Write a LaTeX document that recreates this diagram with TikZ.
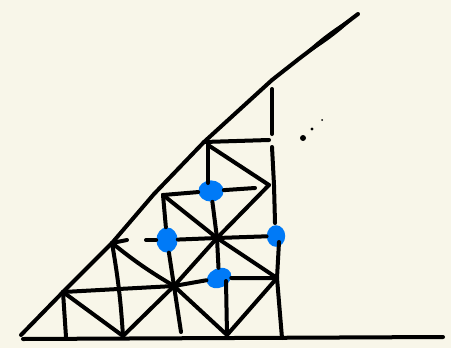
\documentclass[tikz,border=0pt]{standalone}
\usepackage{tikz}
\usepackage{xcolor}
\usetikzlibrary{shapes.geometric}
\definecolor{paper}{RGB}{248,246,233}
\definecolor{blob}{RGB}{0,122,247}
\tikzset{
  x=0.025cm, y=-0.025cm,
  stroke/.style={draw=black, line width=0.1cm, line cap=round, line join=round},
  spot/.style={ellipse, fill=blob, inner sep=0pt},
  speck/.style={circle, fill=black, inner sep=0pt},
}
\begin{document}
\begin{tikzpicture}
  % Paper
  \fill[paper] (0,0) rectangle (451,348);
  \useasboundingbox (0,0) rectangle (451,348);

  % Points on the long edge
  \coordinate (start) at (21,335);
  \coordinate (h1) at (63,292);
  \coordinate (h2) at (112,243);
  \coordinate (hmid) at (154,194);
  \coordinate (h4) at (204,142);
  \coordinate (h5) at (272,80);
  \coordinate (tipa) at (300,58);
  \coordinate (tipb) at (358,14);

  % Points on the bottom edge
  \coordinate (basel) at (23,339);
  \coordinate (b1) at (66,337);
  \coordinate (b2) at (123,336);
  \coordinate (b3) at (181,332);
  \coordinate (b4) at (227,335);
  \coordinate (b5) at (282,338);
  \coordinate (baser) at (443,337);

  % Inner crossings
  \coordinate (h3) at (163,195);
  \coordinate (h4a) at (208,145);
  \coordinate (m1) at (174,286);
  \coordinate (m2) at (217,238);
  \coordinate (m3) at (277,278);
  \coordinate (m4) at (269,185);
  \coordinate (m5) at (274,185);

  % Loose ends
  \coordinate (e1) at (127,240);
  \coordinate (e2) at (146,240);
  \coordinate (e3) at (255,188);
  \coordinate (e4) at (269,140);
  \coordinate (v1) at (272,89);
  \coordinate (v2) at (272,134);
  \coordinate (v3) at (272,147);
  \coordinate (v4) at (275,223);
  \coordinate (v5) at (279,242);
  \coordinate (v6) at (208,183);
  \coordinate (v7) at (226,281);

  % Blue spots
  \node[spot, minimum width=0.63cm, minimum height=0.53cm] (top) at (211,191) {};
  \node[spot, minimum width=0.53cm, minimum height=0.63cm] (left) at (167,240) {};
  \node[spot, minimum width=0.46cm, minimum height=0.54cm] (right) at (276,236) {};
  \node[spot, minimum width=0.64cm, minimum height=0.48cm, rotate=25] (low) at (219,278) {};

  % Long edge and base
  \draw[stroke] (start) -- (h1) -- (h2) -- (hmid) -- (h4) -- (h5) -- (tipa) -- (tipb);
  \fill[black] (tipa) .. controls (321,46) and (341,32) .. (tipb)
               .. controls (337,26) and (317,40) .. (tipa);
  \draw[stroke] (basel) -- (baser);

  % First fan
  \draw[stroke] (h1) -- (b1);
  \draw[stroke] (h1) -- (b2);
  \draw[stroke] (h1) -- (m1) -- (low);
  \draw[stroke] (low) -- (m3);
  \draw[stroke] (h2) to[bend left=3] (b2);
  \draw[stroke] (h2) to[bend right=4] (m1);
  \draw[stroke] (b2) -- (m1) -- (m2) -- (m4);
  \draw[stroke] (m1) -- (b3);
  \draw[stroke] (m1) -- (b4) -- (m3);
  \draw[stroke] (v7) -- (b4);

  % Middle row
  \draw[stroke] (h2) -- (e1);
  \draw[stroke] (e2) -- (left);
  \draw[stroke] (left) -- (m2) -- (right);
  \draw[stroke] (m2) -- (m3);
  \draw[stroke] (m2) -- (low);
  \draw[stroke] (m2) -- (top);
  \draw[stroke] (m2) -- (h3);
  \draw[stroke] (h3) -- (left) -- (m1);

  % Upper row
  \draw[stroke] (h3) -- (top) -- (e3);
  \draw[stroke] (h4a) -- (v6);
  \draw[stroke] (h4a) -- (m4);
  \draw[stroke] (h4) -- (e4);

  % Right side, broken
  \draw[stroke] (v1) -- (v2);
  \draw[stroke] (v3) -- (m5) -- (v4);
  \draw[stroke] (v5) -- (m3) -- (b5);

  % Three dots
  \node[speck, minimum size=0.15cm] (dota) at (303,138) {};
  \node[speck, minimum size=0.08cm] (dotb) at (312,129) {};
  \node[speck, minimum size=0.05cm] (dotc) at (322,120) {};
\end{tikzpicture}
\end{document}
